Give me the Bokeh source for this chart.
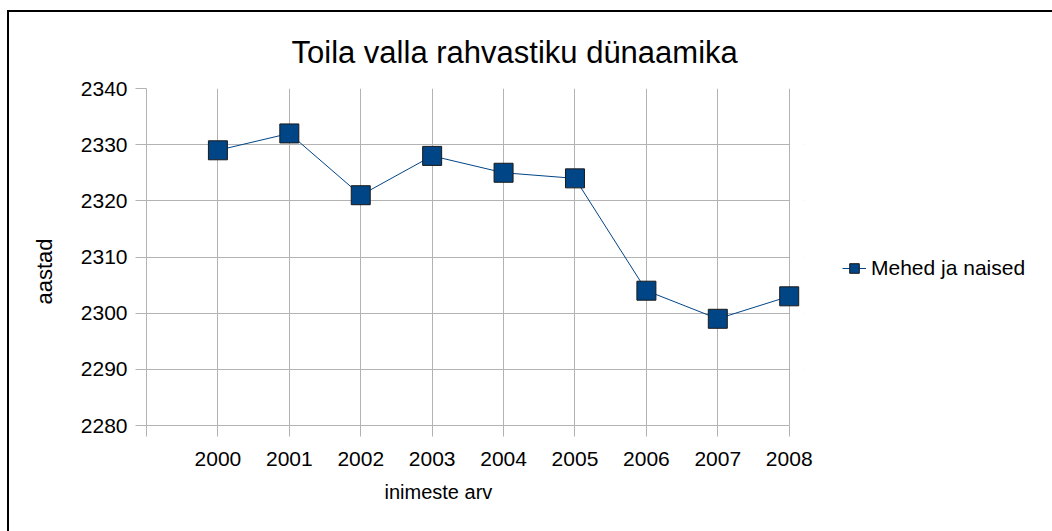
from bokeh.plotting import figure
from bokeh.models import (FixedTicker, Legend, LegendItem, BoxAnnotation, Range1d, Title)
from bokeh.embed import file_html
from bokeh.resources import INLINE

# ---- data ----
years = [2000, 2001, 2002, 2003, 2004, 2005, 2006, 2007, 2008]
population = [2329, 2332, 2321, 2328, 2325, 2324, 2304, 2299, 2303]
y_ticks = [2280, 2290, 2300, 2310, 2320, 2330, 2340]
x_ticks = [1999] + years
series_name = "Mehed ja naised"
title_text = "Toila valla rahvastiku dünaamika"
x_label_text = "inimeste arv"
y_label_text = "aastad"

FONT = "Liberation Sans"
BLUE = "#004586"
GRID = "#b3b3b3"

X_END = 2008.2   # small room so the last marker is not clipped

p = figure(frame_width=657, frame_height=337, output_backend="svg", toolbar_location=None,
           x_range=Range1d(1999, X_END), y_range=Range1d(2280, 2340),
           min_border_left=136, min_border_right=246, min_border_top=76,
           min_border_bottom=106)
p.outline_line_color = None
p.background_fill_color = "white"
p.border_fill_color = "white"
p.styles = {"margin-left": "7px", "margin-top": "10px",
            "border-left": "2px solid black", "border-top": "2px solid black"}

# axes
for ax in (p.xaxis[0], p.yaxis[0]):
    ax.axis_line_color = GRID
    ax.major_tick_line_color = GRID
    ax.major_tick_out = 11
    ax.major_tick_in = 0
    ax.minor_tick_line_color = None
    ax.major_label_text_font = FONT
    ax.major_label_text_font_size = "21px"
    ax.major_label_text_color = "black"

p.xaxis[0].ticker = FixedTicker(ticks=x_ticks)
p.xaxis[0].major_label_overrides = {1999: ""}
p.xaxis[0].major_label_standoff = 15
p.xaxis[0].bounds = (1999, 2008)
p.yaxis[0].ticker = FixedTicker(ticks=y_ticks)
p.yaxis[0].major_label_standoff = 8

p.xgrid[0].ticker = FixedTicker(ticks=x_ticks)
p.ygrid[0].ticker = FixedTicker(ticks=y_ticks)
p.xgrid.grid_line_color = GRID
p.ygrid.grid_line_color = GRID

# hide grid beyond the last category
p.add_layout(BoxAnnotation(left=2008.012, fill_color="white", fill_alpha=1,
                           line_color=None, level="underlay"))

# data
ln = p.line(years, population, line_color=BLUE, line_width=1)
sc = p.scatter(years, population, marker="square", size=19,
               fill_color=BLUE, line_color="#1a1a1a", line_width=1)

legend = Legend(items=[LegendItem(label=series_name, renderers=[ln, sc])],
                location=(39, 144), padding=0, margin=0,
                border_line_color=None, background_fill_alpha=0,
                glyph_width=24, glyph_height=26, label_standoff=5,
                label_text_font=FONT, label_text_font_size="21px",
                label_text_color="black")
p.add_layout(legend, "right")

# title and axis labels
p.add_layout(Title(text=title_text, align="left", offset=145, standoff=37,
                   text_font=FONT, text_font_size="31px", text_font_style="normal",
                   text_color="black"), "above")
p.add_layout(Title(text=x_label_text, align="left", offset=238, standoff=20,
                   text_font=FONT, text_font_size="20px", text_font_style="normal",
                   text_color="black"), "below")
p.add_layout(Title(text=y_label_text, align="left", offset=121, standoff=41,
                   text_font=FONT, text_font_size="22px", text_font_style="normal",
                   text_color="black"), "left")

open("out.html", "w").write(file_html(p, INLINE))
